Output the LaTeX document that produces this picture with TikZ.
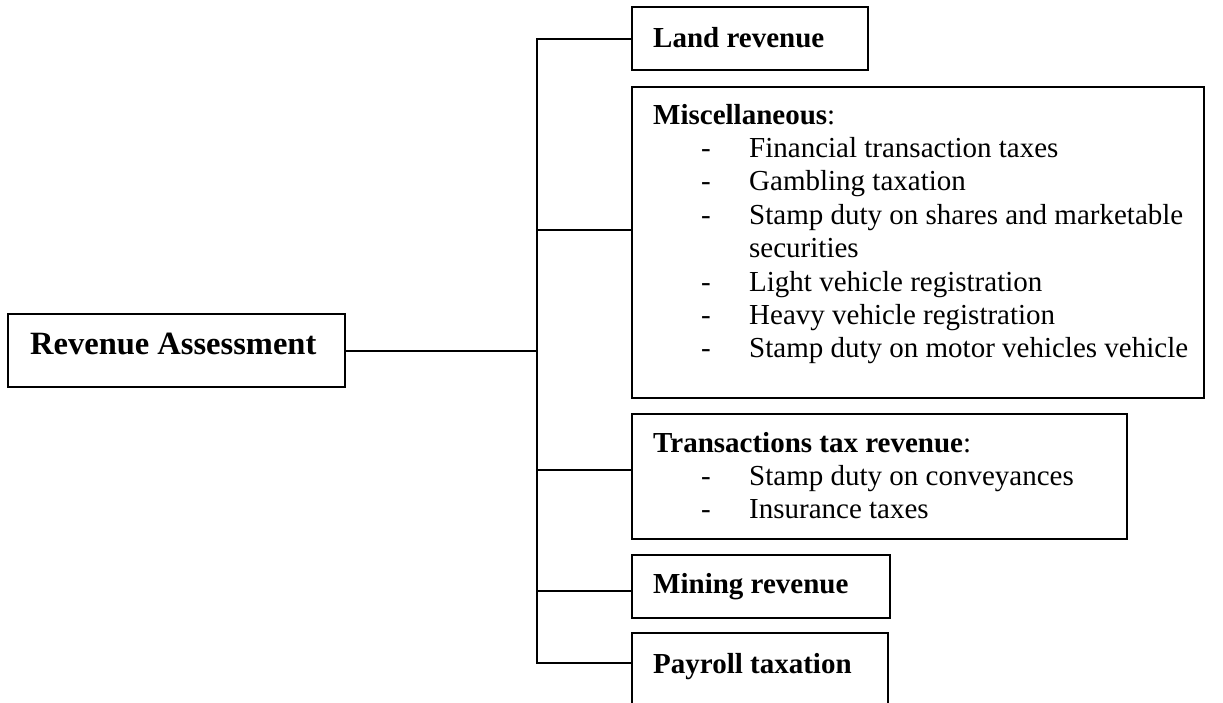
\documentclass[tikz,border=0pt]{standalone}
\usepackage{fontspec}
\setmainfont{Liberation Serif}
\usetikzlibrary{calc}
\begin{document}
\begin{tikzpicture}[x=1pt,y=-1pt]
\tikzset{
 boxnode/.style={draw, line width=2pt, anchor=north west, inner sep=0pt, outer sep=0pt},
 titletext/.style={anchor=base west, inner sep=0pt, font=\fontsize{29}{33}\selectfont\bfseries},
 itemtext/.style={anchor=base west, inner sep=0pt, font=\fontsize{29}{33}\selectfont},
 conn/.style={line width=2pt}
}
\useasboundingbox (0,0) rectangle (1223,702);
\clip (0,0) rectangle (1223,702);
% boxes
\node[boxnode, minimum width=337pt, minimum height=73pt] (ra) at (8,314) {};
\node[boxnode, minimum width=236pt, minimum height=63pt] (land) at (632,7) {};
\node[boxnode, minimum width=572pt, minimum height=311pt] (misc) at (632,87) {};
\node[boxnode, minimum width=495pt, minimum height=125pt] (trans) at (632,414) {};
\node[boxnode, minimum width=258pt, minimum height=63pt] (mine) at (632,555) {};
\node[boxnode, minimum width=256pt, minimum height=90pt] (pay) at (632,633) {};
% texts
\node[anchor=base west, inner sep=0pt, font=\fontsize{32.5}{36}\selectfont\bfseries] (ratext) at (30,354) {Revenue Assessment};
\node[titletext] (landtext) at (653,47) {Land revenue};
\node[titletext] (misctitle) at (653,124) {Miscellaneous\mdseries:};
\node[itemtext] (md1) at (701,157.4) {-};
\node[itemtext] (mi1) at (749,157.4) {Financial transaction taxes};
\node[itemtext] (md2) at (701,190.8) {-};
\node[itemtext] (mi2) at (749,190.8) {Gambling taxation};
\node[itemtext] (md3) at (701,224.2) {-};
\node[itemtext] (mi3) at (749,224.2) {Stamp duty on shares and marketable};
\node[itemtext] (mi3b) at (749,257.6) {securities};
\node[itemtext] (md4) at (701,291) {-};
\node[itemtext] (mi4) at (749,291) {Light vehicle registration};
\node[itemtext] (md5) at (701,324.4) {-};
\node[itemtext] (mi5) at (749,324.4) {Heavy vehicle registration};
\node[itemtext] (md6) at (701,357.8) {-};
\node[itemtext] (mi6) at (749,357.8) {Stamp duty on motor vehicles vehicle};
\node[titletext] (transtitle) at (653,452) {Transactions tax revenue\mdseries:};
\node[itemtext] (td1) at (701,485.5) {-};
\node[itemtext] (ti1) at (749,485.5) {Stamp duty on conveyances};
\node[itemtext] (td2) at (701,518.5) {-};
\node[itemtext] (ti2) at (749,518.5) {Insurance taxes};
\node[titletext] (minetext) at (653,593) {Mining revenue};
\node[titletext] (paytext) at (653,673) {Payroll taxation};
% connectors
\coordinate (tk) at (537,0);
\coordinate (miscc) at ($(misc.north west)+(0,143)$);
\coordinate (transc) at ($(trans.north west)+(0,56)$);
\coordinate (minec) at ($(mine.north west)+(0,36)$);
\coordinate (payc) at ($(pay.north west)+(0,30)$);
\draw[conn] (ra.east) -- (ra.east -| tk);
\draw[conn] (land.west) -- (land.west -| tk) -- (payc -| tk) -- (payc);
\draw[conn] (miscc -| tk) -- (miscc);
\draw[conn] (transc -| tk) -- (transc);
\draw[conn] (minec -| tk) -- (minec);
\end{tikzpicture}
\end{document}
